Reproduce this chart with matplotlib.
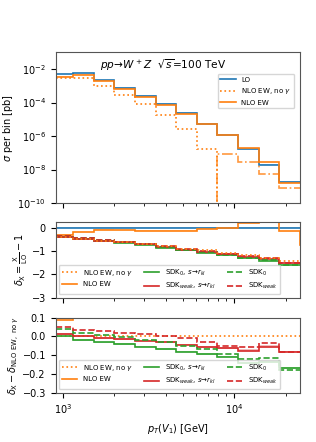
import numpy as np
import matplotlib
matplotlib.use("Agg")
import matplotlib.pyplot as plt
from matplotlib.lines import Line2D

plt.rcParams['font.size'] = 7

# bin edges in pT(V1) [GeV]
edges = np.array([910, 1153, 1520, 2005, 2644, 3486, 4597, 6061, 7993, 10539, 13897, 18325, 24164])

# LO cross section per bin [pb]
lo = np.array([4.8e-3, 5.5e-3, 2.1e-3, 7.6e-4, 2.5e-4, 8.3e-5, 2.4e-5, 5.5e-6, 1.1e-6, 1.6e-7, 1.9e-8, 1.9e-9])

# relative corrections delta_X = X/LO - 1
d_nlo = np.array([-0.30, -0.20, -0.10, -0.11, -0.12, -0.13, -0.12, -0.07, -0.02, 0.19, 0.40, -0.15])
d_nlo_next = -0.75  # value just past the last bin
d_noa = np.array([-0.39, -0.46, -0.55, -0.61, -0.69, -0.79, -0.89, -0.97, -1.08, -1.17, -1.28, -1.42])

# SDK approximations, as difference to delta_{NLO EW, no gamma}
sdk0_r = np.array([0.0, -0.02, -0.032, -0.041, -0.054, -0.068, -0.081, -0.095, -0.107, -0.143, -0.136, -0.17])
sdkw_r = np.array([0.013, 0.0, -0.009, -0.014, -0.023, -0.032, -0.045, -0.057, -0.063, -0.075, -0.054, -0.081])
sdk0 = np.array([0.039, 0.021, 0.009, -0.004, -0.018, -0.032, -0.05, -0.068, -0.093, -0.122, -0.116, -0.179])
sdkw = np.array([0.05, 0.036, 0.027, 0.018, 0.013, 0.005, -0.009, -0.03, -0.05, -0.054, -0.036, -0.084])

lw = 1.2
tiny = 1e-13
leg_fs = 5.0

fig = plt.figure(figsize=(3.16, 4.42), dpi=100)
ax1 = fig.add_axes([0.176, 0.5407, 0.773, 0.341])
ax2 = fig.add_axes([0.176, 0.3265, 0.773, 0.1712], sharex=ax1)
ax3 = fig.add_axes([0.176, 0.1115, 0.773, 0.1697], sharex=ax1)

# ---- top panel: cross sections
nlo = lo * (1 + d_nlo)
noa = lo * (1 + d_noa)
noa_pos = np.where(noa > 0, noa, tiny)
noa_neg = np.where(noa < 0, -noa, tiny)

ax1.stairs(lo * 1.12, edges, baseline=lo, fill=True, color='C0', alpha=0.3, lw=0)
ax1.stairs(nlo * 1.08, edges, baseline=nlo, fill=True, color='C1', alpha=0.3, lw=0)
ax1.stairs(lo, edges, baseline=None, color='C0', lw=lw)
ax1.stairs(noa_pos, edges, baseline=None, color='C1', ls=':', lw=lw)
ax1.stairs(noa_neg, edges, baseline=None, color='C1', ls='-.', lw=lw, alpha=0.8)
ax1.stairs(nlo, edges, baseline=None, color='C1', lw=lw)

ax1.set_xscale('log')
ax1.set_yscale('log')
ax1.set_ylim(1e-10, 1e-1)
ax1.set_yticks([1e-10, 1e-8, 1e-6, 1e-4, 1e-2])
ax1.set_xlim(edges[0], edges[-1])
ax1.set_ylabel(r'$\sigma$ per bin [pb]', labelpad=2)
ax1.text(0.44, 0.965, r'$pp\!\to\! W^+Z\ \ \sqrt{s}$=100 TeV', transform=ax1.transAxes,
         ha='center', va='top', fontsize=7.6)
h_top = [Line2D([], [], color='C0', lw=lw), Line2D([], [], color='C1', ls=':', lw=lw),
         Line2D([], [], color='C1', lw=lw)]
ax1.legend(h_top, ['LO', r'NLO EW, no $\gamma$', 'NLO EW'], loc='upper right',
           bbox_to_anchor=(0.99, 0.88), fontsize=leg_fs, handlelength=2.2)
plt.setp(ax1.get_xticklabels(), visible=False)

# ---- middle panel: relative corrections
e_ext = np.append(edges, 40000)
zero = np.zeros(len(lo))
ax2.stairs(zero + 0.02, edges, baseline=zero, fill=True, color='C0', alpha=0.3, lw=0)
ax2.stairs(zero, edges, baseline=None, color='C0', lw=lw)
ax2.stairs(d_nlo + 0.03, edges, baseline=d_nlo, fill=True, color='C1', alpha=0.3, lw=0)
ax2.stairs(np.append(d_nlo, d_nlo_next), e_ext, baseline=None, color='C1', lw=lw)
ax2.stairs(d_noa + sdk0_r, edges, baseline=None, color='C2', lw=lw)
ax2.stairs(d_noa + sdkw_r, edges, baseline=None, color='C3', lw=lw)
ax2.stairs(d_noa + sdk0, edges, baseline=None, color='C2', ls='--', lw=lw)
ax2.stairs(d_noa + sdkw, edges, baseline=None, color='C3', ls='--', lw=lw)
ax2.stairs(d_noa, edges, baseline=None, color='C1', ls=':', lw=lw)
ax2.set_ylim(-3, 0.25)
ax2.set_yticks([-3, -2, -1, 0])
ax2.set_ylabel(r'$\delta_{\mathrm{X}} = \frac{\mathrm{X}}{\mathrm{LO}} - 1$', labelpad=1)
plt.setp(ax2.get_xticklabels(), visible=False)

labels = [r'NLO EW, no $\gamma$', 'NLO EW', r'SDK$_0$, $s\!\to\! r_{kl}$',
          r'SDK$_{weak}$, $s\!\to\! r_{kl}$', r'SDK$_0$', r'SDK$_{weak}$']
handles = [Line2D([], [], color='C1', ls=':', lw=lw), Line2D([], [], color='C1', lw=lw),
           Line2D([], [], color='C2', lw=lw), Line2D([], [], color='C3', lw=lw),
           Line2D([], [], color='C2', ls='--', lw=lw), Line2D([], [], color='C3', ls='--', lw=lw)]
ax2.legend(handles, labels, ncol=3, loc='lower left', fontsize=leg_fs,
           columnspacing=1.6, handlelength=2.2)

# ---- bottom panel: difference to NLO EW, no gamma
diff_nlo = d_nlo - d_noa
ax3.stairs(sdk0_r + 0.005, edges, baseline=sdk0_r - 0.004, fill=True, color='C2', alpha=0.3, lw=0)
ax3.stairs(sdkw_r + 0.006, edges, baseline=sdkw_r - 0.003, fill=True, color='C3', alpha=0.3, lw=0)
ax3.stairs(zero, edges, baseline=None, color='C1', ls=':', lw=lw)
ax3.stairs(diff_nlo, edges, baseline=None, color='C1', lw=lw)
ax3.stairs(sdk0_r, edges, baseline=None, color='C2', lw=lw)
ax3.stairs(sdkw_r, edges, baseline=None, color='C3', lw=lw)
ax3.stairs(sdk0, edges, baseline=None, color='C2', ls='--', lw=lw)
ax3.stairs(sdkw, edges, baseline=None, color='C3', ls='--', lw=lw)
ax3.set_ylim(-0.3, 0.1)
ax3.set_yticks([-0.3, -0.2, -0.1, 0.0, 0.1])
ax3.set_ylabel(r'$\delta_{\mathrm{X}}-\delta_{\mathrm{NLO\ EW,\ no}\ \gamma}$', labelpad=1)
ax3.set_xlabel(r'$p_T(V_1)$ [GeV]')
ax3.legend(handles, labels, ncol=3, loc='lower left', fontsize=leg_fs,
           columnspacing=1.6, handlelength=2.2)

for ax in (ax1, ax2, ax3):
    for s in ax.spines.values():
        s.set_color('#555555')

ax1.set_xlim(edges[0], edges[-1])
fig.savefig('out.png', dpi=100)
